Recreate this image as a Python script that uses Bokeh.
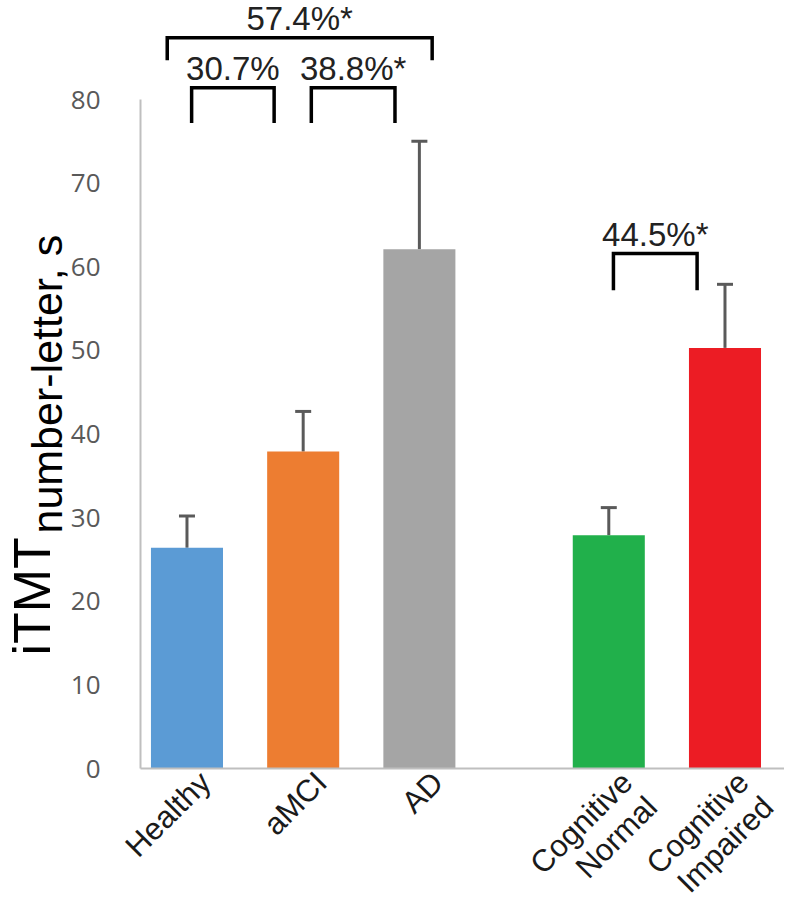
import math
from bokeh.plotting import figure
from bokeh.models import ColumnDataSource, Range1d, FixedTicker, Whisker, TeeHead
from bokeh.core.properties import value
from bokeh.embed import file_html
from bokeh.resources import INLINE

# ---------------- data ----------------
categories = ["Healthy", "aMCI", "AD", "Cognitive\nNormal", "Cognitive\nImpaired"]
groups = [0, 0, 0, 1, 1]
means = [26.4, 37.9, 62.1, 27.9, 50.3]
upper = [30.2, 42.7, 75.0, 31.2, 57.9]
colors = ["#5B9BD5", "#ED7D31", "#A5A5A5", "#21B04B", "#EC1C24"]
y_ticks = [0, 10, 20, 30, 40, 50, 60, 70, 80]

cmp_from = [0, 1, 0, 3]
cmp_to = [1, 2, 2, 4]
cmp_labels = ["30.7%", "38.8%*", "57.4%*", "44.5%*"]

y_title_main = "iTMT"
y_title_sub = "number-letter, s"

# ---------------- layout ----------------
W, H = 784, 903
GROUP_GAP = 0.63
BAR_W = 0.62
PX_PER_X = 116.2            # pixels per category step
PX_PER_Y = 8.3625           # pixels per value unit
AXIS_PX = 140               # where the value axis sits (from the left edge)
X_AT_AXIS = 0.6             # x value at the value axis
Y_TOP = 91.84               # value at the top edge
x = [i + 1 + GROUP_GAP * g for i, g in enumerate(groups)]

x_start = X_AT_AXIS - AXIS_PX / PX_PER_X
x_end = x_start + W / PX_PER_X


def px_to_x(px):
    return x_start + px / PX_PER_X


br_level = [81.4, 81.4, 87.4, 61.6]
br_leg = [4.2, 4.2, 2.7, 4.4]
br_dx0 = [0.04, 0.07, -0.17, 0.04]
br_dx1 = [-0.25, -0.21, 0.11, -0.24]

# the frame fills the whole canvas; axes are pinned at x = X_AT_AXIS and y = 0
p = figure(width=W, height=H, output_backend="svg", toolbar_location=None,
           x_range=Range1d(x_start, x_end), y_range=Range1d(Y_TOP - H / PX_PER_Y, Y_TOP),
           min_border_left=0, min_border_right=0, min_border_top=0,
           min_border_bottom=0, title=None)
p.outline_line_color = None
p.xgrid.visible = False
p.ygrid.visible = False

src = ColumnDataSource(dict(x=x, top=means, upper=upper, color=colors))
p.vbar(x="x", top="top", width=BAR_W, color="color", line_color=None, source=src)

p.add_layout(Whisker(base="x", lower="top", upper="upper", source=src,
                     line_color="#5A5A5A", line_width=3,
                     upper_head=TeeHead(size=16, line_color="#5A5A5A", line_width=3),
                     lower_head=None))

# y axis
ax = p.yaxis[0]
ax.fixed_location = X_AT_AXIS
ax.ticker = FixedTicker(ticks=y_ticks)
ax.bounds = (0, 80)
ax.axis_line_color = "#BFBFBF"
ax.axis_line_width = 2
ax.major_tick_line_color = None
ax.minor_tick_line_color = None
ax.major_tick_out = 0
ax.major_tick_in = 0
ax.major_label_standoff = 40
ax.major_label_text_font = "Open Sans"
ax.major_label_text_font_size = "26px"
ax.major_label_text_color = "#595959"

# x axis line placed at value 0
xa = p.xaxis[0]
xa.fixed_location = 0
xa.bounds = (X_AT_AXIS, x_end)
xa.ticker = FixedTicker(ticks=[])
xa.axis_line_color = "#BFBFBF"
xa.axis_line_width = 2
xa.major_tick_line_color = None
xa.minor_tick_line_color = None

# rotated category labels just under the axis
lab_src = ColumnDataSource(dict(x=[v + 0.05 for v in x], y=[0.45] * len(x), text=categories))
p.text(x="x", y="y", text="text", source=lab_src, angle=math.pi / 4,
       text_align="right", text_baseline="top", text_line_height=1.0,
       text_font=value("Liberation Sans"), text_font_size="31px", text_color="#1a1a1a")

# significance brackets
bx, by, tx, ty, tt = [], [], [], [], []
for f, t, lab, lv, lg, d0, d1 in zip(cmp_from, cmp_to, cmp_labels, br_level, br_leg, br_dx0, br_dx1):
    x0 = x[f] + d0
    x1 = x[t] + d1
    bx.append([x0, x0, x1, x1])
    by.append([lv - lg, lv, lv, lv - lg])
    tx.append((x0 + x1) / 2)
    ty.append(lv + 2.3)
    tt.append(lab)
p.multi_line(xs=bx, ys=by, line_color="black", line_width=3.5, line_join="miter")
p.text(x=tx, y=ty, text=tt, text_align="center", text_baseline="middle",
       text_font=value("Liberation Sans"), text_font_size="33px", text_color="#222222")

# y title (main text + subscript)
p.text(x=[px_to_x(31)], y=[13.5], text=[y_title_main], angle=math.pi / 2,
       text_align="left", text_baseline="middle",
       text_font=value("Liberation Sans"), text_font_size="52px", text_color="black")
p.text(x=[px_to_x(46)], y=[28.1], text=[y_title_sub], angle=math.pi / 2,
       text_align="left", text_baseline="middle",
       text_font=value("Liberation Sans"), text_font_size="43px", text_color="black")

open("out.html", "w").write(file_html(p, INLINE))
